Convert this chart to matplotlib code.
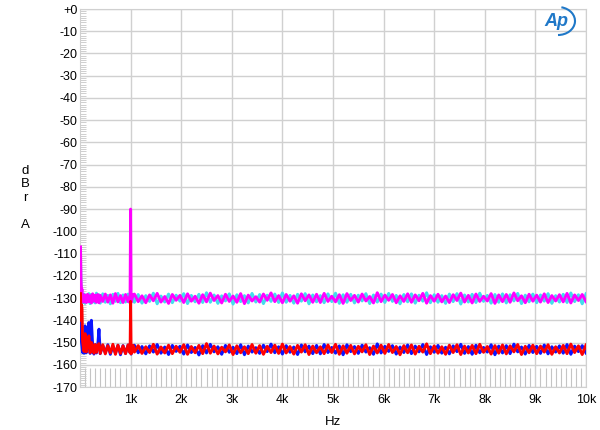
import numpy as np
import matplotlib
matplotlib.use('Agg')
import matplotlib.pyplot as plt
from matplotlib.patches import Arc
from matplotlib.ticker import MultipleLocator

plt.rcParams['font.family'] = ['Liberation Sans', 'DejaVu Sans']

# low-frequency bins (detail near DC and the 1 kHz tone)
f_lo = [10, 20, 30, 40, 50, 60, 80, 100, 125, 150, 175, 200, 225, 250, 275, 300, 325, 350,
        375, 400, 450, 500, 550, 600, 650, 700, 750, 800, 850, 900, 950, 990, 1000, 1010, 1050]
# evenly spaced bins above 1 kHz
f_hi = np.arange(1075, 10001, 75)

cyan_lo = [-112, -124, -128, -132.0, -128.6, -131.9, -128.2, -132.4, -128.7, -131.7,
           -128.0, -132.5, -128.4, -131.8, -128.9, -132.2, -127.8, -131.6, -128.5, -132.3,
           -128.1, -131.9, -128.8, -132.6, -128.3, -131.5, -127.9, -132.1, -128.6, -131.8,
           -128.2, -132.4, -129.5, -131.7, -128.4]
mag_lo = [-107, -122, -127, -126, -131.5, -128.5, -131.8, -128.6, -132.0, -128.3,
          -131.6, -128.9, -132.2, -128.1, -131.4, -128.7, -131.9, -128.4, -132.1, -128.8,
          -131.5, -128.2, -131.8, -128.6, -132.3, -128.0, -131.7, -128.9, -132.0, -128.4,
          -131.6, -128.7, -90.0, -131.9, -128.5]
blue_lo = [-131, -146, -150, -152, -154.5, -151.0, -154.8, -142.5, -154.6, -151.2,
           -141, -154.9, -140, -151.4, -155.2, -151.0, -154.7, -151.5, -144, -155.0,
           -151.3, -154.6, -151.0, -155.3, -151.6, -154.8, -151.2, -155.5, -151.4, -154.9,
           -151.1, -154.6, -152.0, -155.2, -151.5]
red_lo = [-128, -140, -133, -135, -149, -151, -154.0, -146, -154.2, -150.8,
          -147, -154.6, -150, -151.2, -154.8, -150.9, -154.4, -151.3, -150.5, -154.9,
          -151.0, -155.1, -151.4, -154.7, -150.8, -155.3, -151.2, -154.9, -151.5, -155.0,
          -151.1, -154.6, -131.5, -155.1, -151.3]

cyan_hi = [
    -131.9, -128.4, -132.3, -128.9, -131.5, -127.8, -132.6, -129.1, -131.8, -128.2, -132.1, -128.7,
    -131.4, -128.0, -132.5, -128.8, -131.7, -128.3, -132.0, -127.6, -131.9, -128.6, -132.4, -129.0,
    -131.3, -128.1, -132.7, -128.5, -131.6, -128.9, -132.2, -127.9, -131.8, -128.4, -132.5, -128.7,
    -131.5, -128.2, -132.0, -127.7, -131.9, -128.8, -132.3, -128.3, -131.4, -128.0, -132.6, -128.6,
    -131.7, -128.9, -132.1, -128.1, -131.6, -127.8, -132.4, -128.5, -131.9, -128.3, -132.2, -128.7,
    -131.3, -128.0, -132.5, -128.6, -131.8, -128.2, -132.0, -127.9, -131.5, -128.8, -132.6, -128.4,
    -131.7, -128.1, -132.3, -128.7, -131.4, -127.6, -132.1, -128.5, -131.9, -128.9, -132.4, -128.2,
    -131.6, -128.0, -132.7, -128.6, -131.8, -128.3, -132.0, -127.8, -131.5, -128.8, -132.3, -128.4,
    -131.9, -128.1, -132.2, -128.5, -131.3, -127.9, -132.5, -128.7, -131.7, -128.2, -132.1, -128.6,
    -131.4, -128.0, -132.4, -128.9, -131.8, -128.3, -132.0, -127.7, -131.6, -128.5, -132.6, -128.1]
mag_hi = [
    -128.2, -131.6, -129.0, -132.1, -128.6, -131.2, -127.9, -131.8, -129.3, -132.4, -128.4, -131.0,
    -128.8, -132.0, -128.1, -131.4, -129.2, -132.3, -128.5, -131.7, -127.8, -131.1, -128.9, -132.2,
    -128.3, -131.5, -129.1, -131.9, -128.0, -132.5, -128.7, -131.3, -129.4, -131.8, -128.2, -131.0,
    -127.7, -131.6, -128.9, -132.1, -128.4, -131.4, -129.0, -132.3, -128.1, -131.2, -128.6, -131.9,
    -128.3, -132.0, -127.9, -131.5, -129.2, -131.7, -128.5, -132.4, -128.0, -131.1, -128.8, -131.8,
    -128.2, -131.3, -129.3, -132.2, -127.6, -131.6, -128.7, -131.0, -128.4, -132.1, -129.0, -131.5,
    -128.1, -131.9, -128.6, -131.2, -127.9, -132.3, -128.9, -131.4, -128.3, -131.7, -129.1, -132.0,
    -128.5, -131.1, -127.8, -131.8, -128.8, -132.2, -128.2, -131.5, -129.2, -131.3, -128.0, -132.4,
    -128.6, -131.6, -128.4, -131.9, -127.7, -131.2, -129.0, -132.1, -128.3, -131.4, -128.7, -131.8,
    -128.1, -132.0, -128.9, -131.3, -128.5, -131.7, -127.9, -132.2, -128.6, -131.1, -128.4, -131.6]
blue_hi = [
    -151.2, -154.6, -151.8, -155.1, -151.5, -154.3, -150.9, -154.8, -152.0, -155.4, -151.3, -154.0,
    -151.7, -155.2, -151.1, -154.5, -152.2, -155.6, -151.4, -154.7, -150.8, -154.2, -151.9, -155.3,
    -151.3, -154.4, -152.1, -155.0, -151.0, -155.5, -151.6, -154.3, -152.3, -154.9, -151.2, -154.1,
    -150.7, -154.6, -151.9, -155.2, -151.4, -154.4, -152.0, -155.4, -151.1, -154.2, -151.6, -155.0,
    -151.3, -155.1, -150.9, -154.5, -152.2, -154.8, -151.5, -155.5, -151.0, -154.1, -151.8, -154.9,
    -151.2, -154.3, -152.3, -155.3, -150.6, -154.7, -151.7, -154.0, -151.4, -155.2, -152.0, -154.5,
    -151.1, -155.0, -151.6, -154.2, -150.9, -155.4, -151.9, -154.4, -151.3, -154.8, -152.1, -155.1,
    -151.5, -154.1, -150.8, -154.9, -151.8, -155.3, -151.2, -154.6, -152.2, -154.3, -151.0, -155.5,
    -151.6, -154.7, -151.4, -155.0, -150.7, -154.2, -152.0, -155.2, -151.3, -154.5, -151.7, -154.9,
    -151.1, -155.1, -151.9, -154.3, -151.5, -154.8, -150.9, -155.3, -151.6, -154.1, -151.4, -154.7]
red_hi = [
    -154.3, -151.4, -154.9, -151.9, -154.5, -150.8, -155.2, -152.0, -154.7, -151.2, -155.0, -151.7,
    -154.4, -151.0, -155.3, -151.8, -154.6, -151.3, -155.0, -150.5, -154.8, -151.6, -155.1, -152.1,
    -154.2, -151.1, -155.4, -151.5, -154.6, -151.9, -155.0, -150.9, -154.8, -151.4, -155.3, -151.7,
    -154.5, -151.2, -154.9, -150.7, -154.7, -151.8, -155.2, -151.3, -154.3, -151.0, -155.4, -151.6,
    -154.6, -151.9, -155.0, -151.1, -154.5, -150.8, -155.3, -151.5, -154.8, -151.3, -155.1, -151.7,
    -154.2, -151.0, -155.4, -151.6, -154.7, -151.2, -154.9, -150.9, -154.5, -151.8, -155.5, -151.4,
    -154.6, -151.1, -155.2, -151.7, -154.3, -150.6, -155.0, -151.5, -154.8, -151.9, -155.3, -151.2,
    -154.5, -151.0, -155.4, -151.6, -154.7, -151.3, -155.0, -150.8, -154.4, -151.8, -155.2, -151.4,
    -154.8, -151.1, -155.1, -151.5, -154.2, -150.9, -155.4, -151.7, -154.6, -151.2, -155.0, -151.6,
    -154.3, -151.0, -155.3, -151.9, -154.7, -151.3, -155.0, -150.7, -154.5, -151.5, -155.4, -151.1]

x_ticks = [1000, 2000, 3000, 4000, 5000, 6000, 7000, 8000, 9000, 10000]
x_labels = ['1k', '2k', '3k', '4k', '5k', '6k', '7k', '8k', '9k', '10k']
y_ticks = list(range(-170, 1, 10))
y_labels = ['+0' if v == 0 else str(v) for v in y_ticks]

freq = np.concatenate([f_lo, f_hi])

fig = plt.figure(figsize=(6, 4.3), dpi=100)
ax = fig.add_axes([80 / 600, 1 - 387 / 430, 506 / 600, 378 / 430])

traces = [(cyan_lo, cyan_hi, '#44dcec'), (mag_lo, mag_hi, '#ff00ff'),
          (blue_lo, blue_hi, '#0a14ff'), (red_lo, red_hi, '#ff0000')]
for lo, hi, c in traces:
    ax.plot(freq, np.concatenate([lo, hi]), color=c, lw=2.1, zorder=3)

ax.set_xlim(0, 10000)
ax.set_ylim(-170, 0)
ax.set_xticks(x_ticks)
ax.set_xticklabels(x_labels)
ax.set_yticks(y_ticks)
ax.set_yticklabels(y_labels)
ax.xaxis.set_minor_locator(MultipleLocator(100))
ax.yaxis.set_minor_locator(MultipleLocator(1))
ax.grid(True, which='major', color='#d0d0d0', lw=1)
ax.tick_params(which='major', length=0, labelsize=9)
ax.tick_params(axis='y', which='major', pad=2)
ax.tick_params(axis='x', which='major', pad=5)
ax.tick_params(axis='x', which='minor', direction='in', length=14, color='#c4c4c4', width=0.8)
ax.tick_params(axis='y', which='minor', direction='in', length=4, color='#c8c8c8', width=0.6)
for s in ax.spines.values():
    s.set_color('#d0d0d0')

ax.set_xlabel('Hz', fontsize=9.5, labelpad=7)
fig.text(25 / 600, 1 - 198 / 430, 'd\nB\nr\n\nA', ha='center', va='center',
         fontsize=9.5, linespacing=1.18)

# Ap logo
fig.text(556 / 600, 1 - 22 / 430, 'Ap', ha='center', va='center', color='#1f78c8',
         fontsize=13, style='italic', weight='bold')
fig.patches.append(Arc((558 / 600, 1 - 21 / 430), 34 / 600, 28 / 430, theta1=-90, theta2=80,
                       transform=fig.transFigure, color='#1f78c8', lw=1.5))

fig.savefig('out.png', dpi=100)
